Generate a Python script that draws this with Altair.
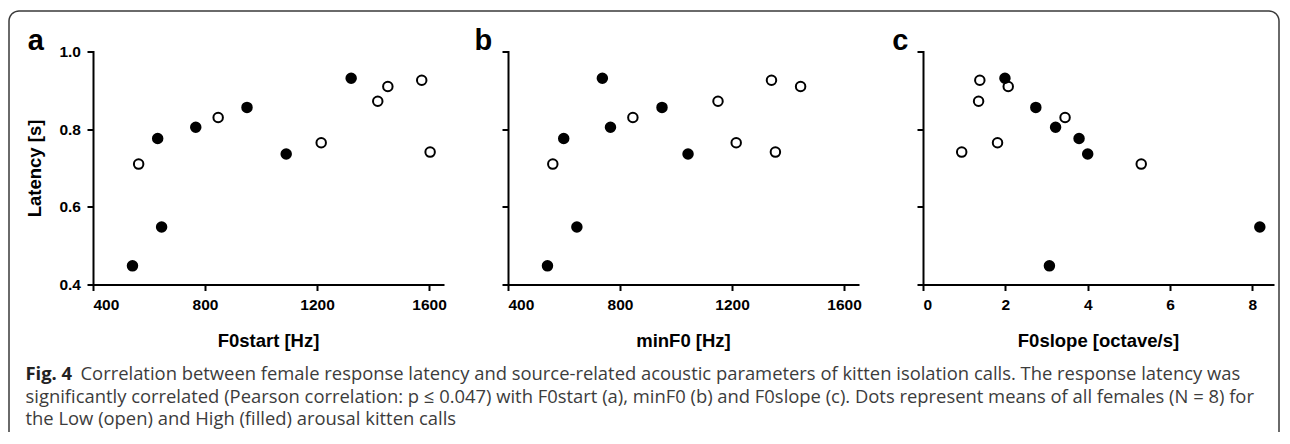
import altair as alt
import pandas as pd
import numpy as np

# ---- data ----
latency_low = [0.710, 0.830, 0.765, 0.872, 0.910, 0.926, 0.741]
latency_high = [0.448, 0.776, 0.548, 0.805, 0.856, 0.736, 0.931]

f0start_low = [563, 847, 1215, 1417, 1453, 1574, 1604]
f0start_high = [541, 631, 645, 767, 950, 1090, 1322]

minf0_low = [560, 846, 1215, 1150, 1445, 1341, 1355]
minf0_high = [541, 599, 646, 766, 950, 1043, 737]

f0slope_low = [5.30, 3.45, 1.81, 1.35, 2.07, 1.38, 0.94]
f0slope_high = [3.07, 3.79, 8.18, 3.22, 2.74, 4.00, 1.99]

y_ticks = [0.4, 0.6, 0.8, 1.0]
hz_ticks = [400, 800, 1200, 1600]
slope_ticks = [0, 2, 4, 6, 8]

caption_fig = "Fig. 4"
caption_l1 = ("Correlation between female response latency and source-related acoustic parameters "
              "of kitten isolation calls. The response latency was")
caption_l2 = ("significantly correlated (Pearson correlation: p \u2264 0.047) with F0start (a), minF0 (b) "
              "and F0slope (c). Dots represent means of all females (N = 8) for")
caption_l3 = "the Low (open) and High (filled) arousal kitten calls"

FONT = "Liberation Sans"
CAP_FONT = "Open Sans"
CAP_SIZE = 18.4
W, H = 350, 233


def make_df(xs_low, xs_high):
    return pd.DataFrame({
        "x": xs_low + xs_high,
        "latency": latency_low + latency_high,
        "arousal": ["Low"] * len(xs_low) + ["High"] * len(xs_high),
    })


def panel(df, xtitle, domain, ticks, letter, letter_x, first):
    yaxis = alt.Axis(values=y_ticks, format=".1f", labels=first,
                     title="Latency [s]" if first else "",
                     titleX=-52.5, titleY=116.5, titleBaseline="alphabetic",
                     titleAngle=270, titleAlign="center")
    xaxis = alt.Axis(values=ticks, format="d", title=xtitle,
                     titleY=62.2, titleBaseline="alphabetic", titleAlign="center")
    pts = alt.Chart(df).mark_circle(size=90, stroke="black", strokeWidth=2, opacity=1).encode(
        x=alt.X("x:Q", scale=alt.Scale(domain=domain, nice=False, zero=False), axis=xaxis),
        y=alt.Y("latency:Q", scale=alt.Scale(domain=[0.4, 1.0], nice=False, zero=False), axis=yaxis),
        fill=alt.Fill("arousal:N", scale=alt.Scale(domain=["Low", "High"], range=["white", "black"]),
                      legend=None),
    )
    lab = alt.Chart(pd.DataFrame({"t": [letter]})).mark_text(
        font=FONT, fontWeight="bold", fontSize=29, align="left", baseline="alphabetic", color="black"
    ).encode(x=alt.value(letter_x), y=alt.value(-1.5), text="t:N")
    return pts, lab


pa, la = panel(make_df(f0start_low, f0start_high), "F0start [Hz]", [400, 1650], hz_ticks, "a", -65.2, True)
pb, lb = panel(make_df(minf0_low, minf0_high), "minF0 [Hz]", [400, 1650], hz_ticks, "b", -33.5, False)
pc, lc = panel(make_df(f0slope_low, f0slope_high), "F0slope [octave/s]", [0, 8.5], slope_ticks, "c", -30.8, False)

# ---- rounded frame (decoration, pixel coords relative to panel a) ----
L, T, R, B, r = -84.0, -40.5, 1186.0, 380.5, 10.0
ang1 = np.linspace(np.pi, 1.5 * np.pi, 10)
ang2 = np.linspace(1.5 * np.pi, 2 * np.pi, 10)
fx = [L] + list(L + r + r * np.cos(ang1)) + list(R - r + r * np.cos(ang2)) + [R]
fy = [B] + list(T + r + r * np.sin(ang1)) + list(T + r + r * np.sin(ang2)) + [B]
frame_df = pd.DataFrame({"px": fx, "py": fy, "i": range(len(fx))})
frame = alt.Chart(frame_df).mark_line(color="#3a3a3a", strokeWidth=1.5, strokeJoin="round",
                                      strokeCap="butt").encode(
    x=alt.X("px:Q", scale=None, axis=None),
    y=alt.Y("py:Q", scale=None, axis=None),
    order="i:Q",
)

# ---- caption ----
cap_x = -67.5


def cap_text(txt, x, y, bold=False):
    kw = dict(font=CAP_FONT, fontSize=CAP_SIZE, align="left", baseline="alphabetic",
              color="#222" if bold else "#3c3c3c")
    if bold:
        kw["fontWeight"] = "bold"
    return alt.Chart(pd.DataFrame({"t": [txt]})).mark_text(**kw).encode(
        x=alt.value(x), y=alt.value(y), text="t:N")


fig_txt = cap_text(caption_fig, cap_x, 328.5, bold=True)
l1 = cap_text(caption_l1, -12.5, 328.5)
l2 = cap_text(caption_l2, cap_x, 351)
l3 = cap_text(caption_l3, cap_x, 373.5)

panel_a = alt.layer(pa, la, frame, fig_txt, l1, l2, l3).resolve_scale(
    x="independent", y="independent").properties(width=W, height=H)
panel_b = alt.layer(pb, lb).properties(width=W, height=H)
panel_c = alt.layer(pc, lc).properties(width=W, height=H)

chart = alt.hconcat(panel_a, panel_b, panel_c, spacing=65, bounds="flush").properties(
    padding={"left": 0, "top": 1.5, "right": 0, "bottom": 0}
).configure_view(strokeWidth=0).configure_axis(
    grid=False,
    domainColor="black", domainWidth=2, domainCap="square",
    tickColor="black", tickWidth=2, tickSize=6,
    labelFont=FONT, labelFontWeight="bold", labelFontSize=15.5, labelColor="black", labelPadding=6.5,
    titleFont=FONT, titleFontWeight="bold", titleFontSize=18.5, titleColor="black",
)

chart.save("out.html", embed_options={"renderer": "svg", "actions": False})
